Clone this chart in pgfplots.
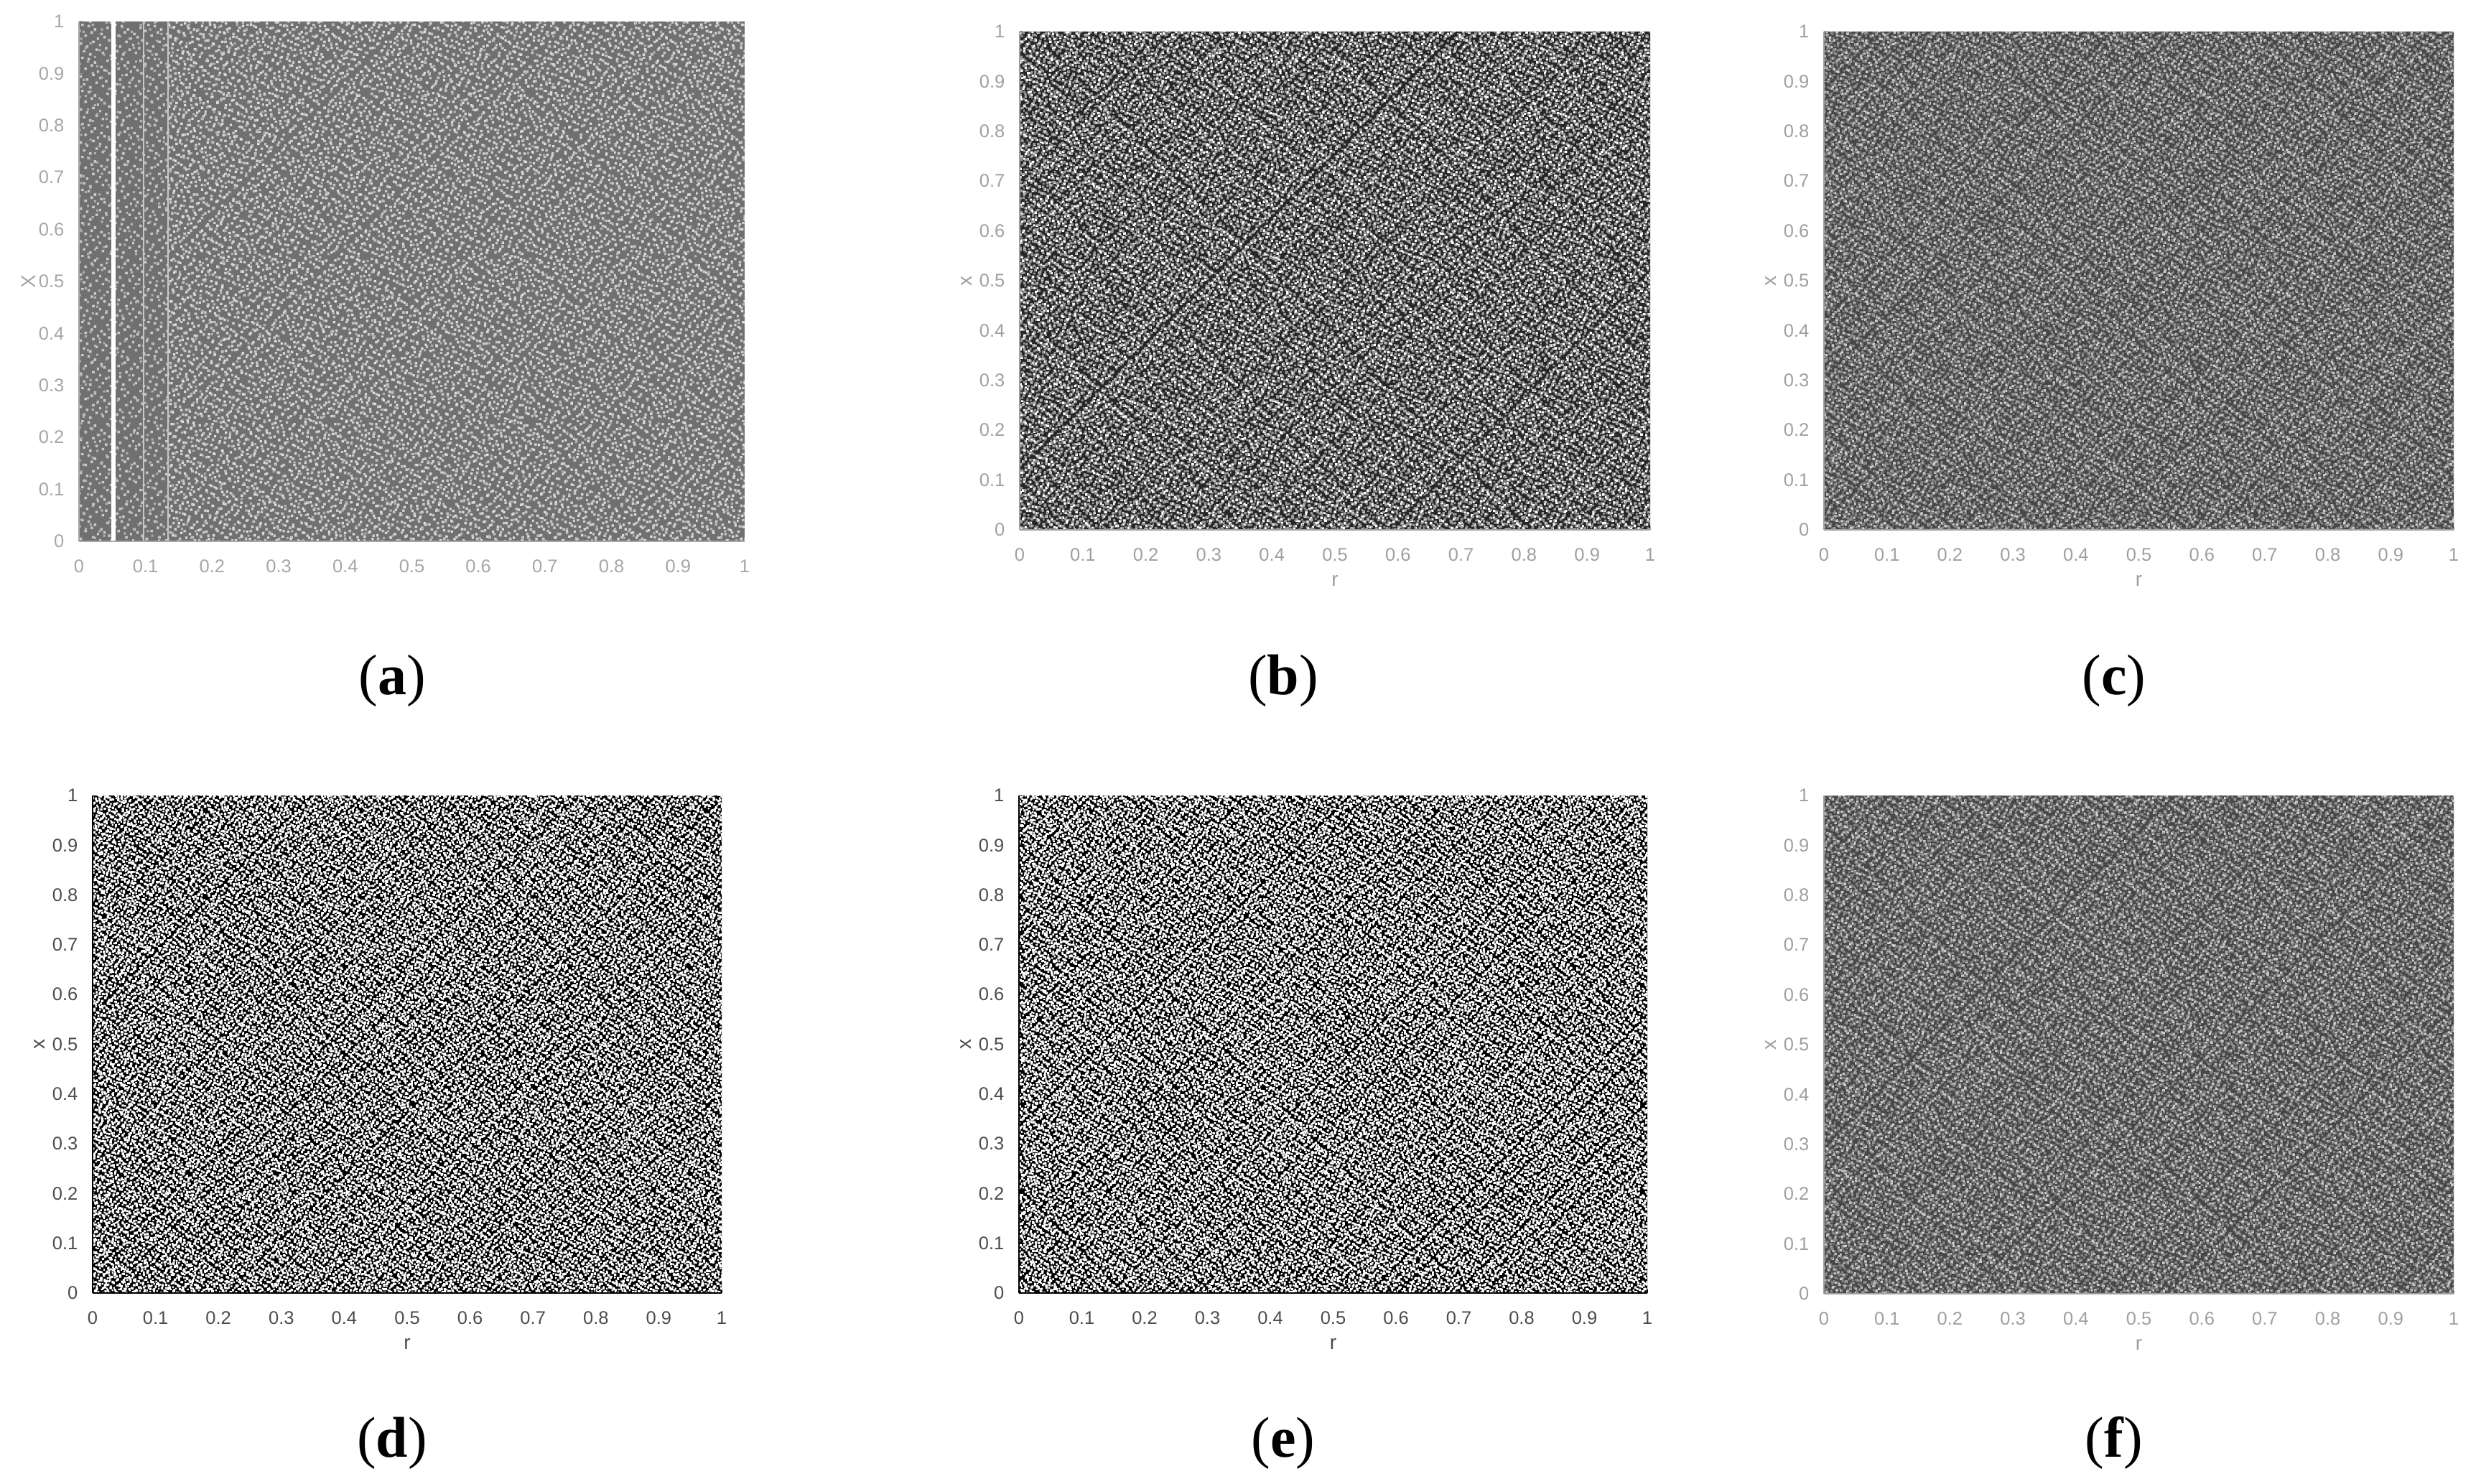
\documentclass[border=0pt]{standalone}
\usepackage{fontspec}
\setmainfont{Liberation Serif}
\newfontfamily\sansf{Liberation Sans}
\usepackage{pgfplots}
\pgfplotsset{compat=1.18}
\usetikzlibrary{patterns}
% NOTE: the individual points of these diagrams cannot be read from the picture.
% The areas below state what can be read (the cloud fills r,x in [0,1]^2, the gaps of panel a);
% the speckle is a decorative fill texture with a tone like the reference, NOT data.
\def\listA{4.64/.31,9.6/.93,1.55/1.55,7.12/2.17,12.1/2.79,2.79/3.4,8.36/4.02,.31/4.64,5.88/5.26,10.8/5.88,4.02/6.5,12.7/7.12,2.17/7.74,7.74/8.36,.93/8.98,10.2/9.6,5.26/10.2,11.5/10.8,3.4/11.5,8.98/12.1,6.5/12.7}
\def\listB{5.93/.26,13.14/.77,1.80/1.29,9.53/1.80,15.71/2.32,3.87/2.83,11.08/3.35,7.47/3.87,.77/4.38,14.68/4.90,4.90/5.41,12.11/5.93,2.83/6.44,16.74/6.96,8.50/7.47,6.44/7.99,14.17/8.50,.26/9.02,10.56/9.53,4.38/10.05,16.23/10.56,2.32/11.08,9.02/11.59,13.65/12.11,5.41/12.62,1.29/13.14,11.59/13.65,6.96/14.17,15.20/14.68,3.35/15.20,12.62/15.71,7.99/16.23,10.05/16.74}
% name, scale, speck size, list, tile size
\newcommand{\declspeck}[5]{%
  \pgfdeclarepatternformonly{#1}{\pgfpointorigin}{\pgfpoint{#2*#5pt}{#2*#5pt}}{\pgfpoint{#2*#5pt}{#2*#5pt}}{%
    \foreach \x/\y in #4 {%
      \pgfpathrectangle{\pgfpoint{#2*\x pt-0.5*#3pt}{#2*\y pt-0.5*#3pt}}{\pgfpoint{#3pt}{#3pt}}%
      \pgfusepath{fill}%
    }%
  }%
}
% panel a: sparse specks
\declspeck{aA}{0.713}{0.72}{\listA}{13}
\declspeck{aB}{0.671}{0.68}{\listB}{17}
\declspeck{aC}{1.037}{0.62}{\listA}{13}
% panels b,c,f: fine mixed grain
\declspeck{mA}{0.611}{0.72}{\listA}{13}
\declspeck{mB}{0.537}{0.68}{\listB}{17}
\declspeck{mC}{0.773}{0.62}{\listA}{13}
\declspeck{mD}{0.419}{0.55}{\listB}{17}
% panels d,e: hard black and white grain
\declspeck{kA}{0.613}{0.66}{\listA}{13}
\declspeck{kB}{0.479}{0.64}{\listB}{17}
\declspeck{kC}{0.827}{0.62}{\listA}{13}
\declspeck{kD}{0.371}{0.50}{\listA}{13}

\newcommand{\region}[3]{\addplot[draw=none,#1] coordinates {(#2,0)(#3,0)(#3,1)(#2,1)} \closedcycle;}
\newcommand{\speck}[4]{\region{pattern=#1,pattern color=#2}{#3}{#4}}

\pgfplotsset{
  panel/.style={
    scale only axis, xmin=0, xmax=1, ymin=0, ymax=1,
    anchor=south west,
    axis lines=left, axis line style={-}, axis on top,
    tick align=inside, major tick length=1pt,
    xtick={0,0.1,0.2,0.3,0.4,0.5,0.6,0.7,0.8,0.9,1},
    ytick={0,0.1,0.2,0.3,0.4,0.5,0.6,0.7,0.8,0.9,1},
    xticklabels={0,0.1,0.2,0.3,0.4,0.5,0.6,0.7,0.8,0.9,1},
    yticklabels={0,0.1,0.2,0.3,0.4,0.5,0.6,0.7,0.8,0.9,1},
    tick label style={font=\sansf\fontsize{5.1}{6}\selectfont},
    x tick label style={yshift=-1.6pt},
    y tick label style={xshift=-0.6pt},
    /pgf/number format/assume math mode=true,
    every axis x label/.style={at={(axis description cs:0.5,0)},anchor=center,yshift=-14.2pt,font=\sansf\fontsize{5.6}{7}\selectfont},
    every axis y label/.style={at={(axis description cs:0,0.5)},anchor=center,rotate=90,yshift=14.8pt,font=\sansf\fontsize{5.6}{7}\selectfont},
    ylabel={x},
  },
  tone/.style={tick label style={text=#1}, axis line style={draw=#1}, tick style={draw=#1}, label style={text=#1}},
}
\newcommand{\mixed}[3]{%
  \region{fill=#1}{0}{1}
  \speck{mA}{#2}{0}{1}
  \speck{mB}{#3}{0}{1}
  \speck{mC}{#2}{0}{1}
  \speck{mD}{#3}{0}{1}
}
\newcommand{\hard}{%
  \region{fill=black}{0}{1}
  \speck{kA}{white}{0}{1}
  \speck{kB}{white}{0}{1}
  \speck{kC}{white}{0}{1}
  \speck{kD}{white}{0}{1}
}
\begin{document}
\begin{tikzpicture}[x=1pt,y=1pt]
\useasboundingbox (0,0) rectangle (691,413.2);

% (a)
\begin{axis}[panel, at={(22pt,262.4pt)}, width=185.4pt, height=144.8pt, tone=gray!70!white, ylabel={X}, every axis y label/.append style={yshift=-0.8pt}]
  \region{fill=black!56}{0}{1}
  \speck{aA}{black!22}{0}{1}
  \speck{aB}{black!14}{0.134}{1}
  \speck{aC}{black!30}{0}{1}
  % gaps in the cloud
  \addplot[draw=white,line width=1.2pt] coordinates {(0.052,0)(0.052,1)};
  \addplot[draw=black!22,line width=0.35pt] coordinates {(0.097,0)(0.097,1)};
  \addplot[draw=black!22,line width=0.35pt] coordinates {(0.134,0)(0.134,1)};
\end{axis}

% (b)
\begin{axis}[panel, at={(284pt,265.6pt)}, width=175.6pt, height=138.8pt, tone=gray!75!white, xlabel={r}]
  \mixed{black!85}{white}{black!40}
\end{axis}

% (c)
\begin{axis}[panel, at={(508pt,265.6pt)}, width=175.4pt, height=138.8pt, tone=gray!75!white, xlabel={r}]
  \mixed{black!72}{black!20}{black!48}
\end{axis}

% (d)
\begin{axis}[panel, at={(25.8pt,53pt)}, width=175.2pt, height=138.6pt, tone=black!70, xlabel={r}, axis line style={draw=black}, tick style={draw=black}]
  \hard
\end{axis}

% (e)
\begin{axis}[panel, at={(283.8pt,53pt)}, width=175pt, height=138.6pt, tone=black!70, xlabel={r}, axis line style={draw=black}, tick style={draw=black}]
  \hard
\end{axis}

% (f)
\begin{axis}[panel, at={(508pt,52.8pt)}, width=175.4pt, height=138.8pt, tone=gray!75!white, xlabel={r}]
  \mixed{black!72}{black!20}{black!48}
\end{axis}

\foreach \px/\py/\l in {109.2/223.6/a,357.4/223.6/b,588.8/223.6/c,109.2/11.2/d,357.4/11.2/e,588.8/11.2/f}
  \node[font=\fontsize{16}{18}\selectfont,inner sep=0pt] at (\px,\py) {(\textbf{\l})};
\end{tikzpicture}
\end{document}
